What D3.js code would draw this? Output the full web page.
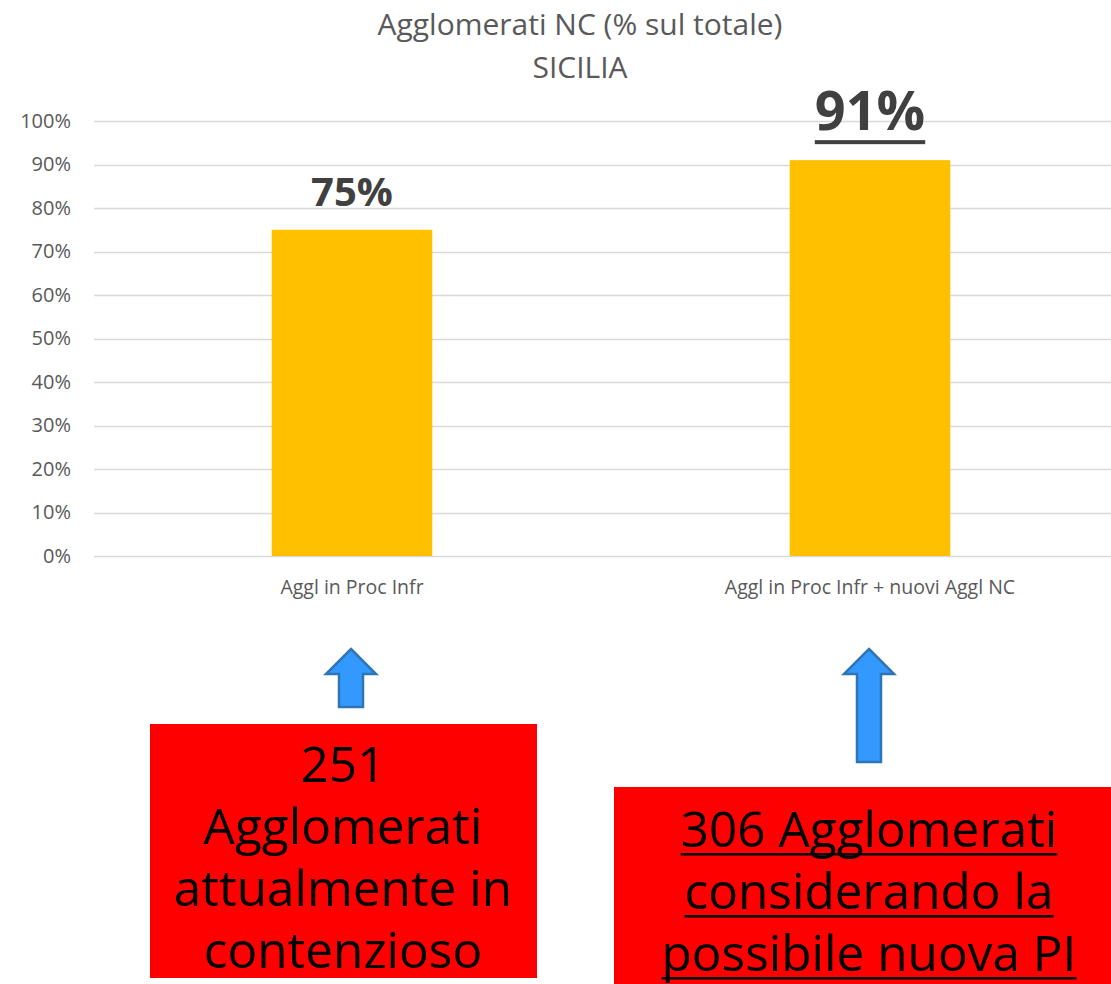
<!DOCTYPE html>
<html>
<head>
<meta charset="utf-8">
<script src="https://cdn.jsdelivr.net/npm/d3@7"></script>
<style>
  body { margin: 0; background: #fff; }
  svg { display: block; font-family: "Open Sans", "Noto Sans", sans-serif; }
</style>
</head>
<body>
<svg id="chart" width="1111" height="984"></svg>
<script>
// DATA
var categories = ["Aggl in Proc Infr", "Aggl in Proc Infr + nuovi Aggl NC"];
var values = [0.75, 0.91];
var valueLabels = ["75%", "91%"];
var tickValues = [0, 0.1, 0.2, 0.3, 0.4, 0.5, 0.6, 0.7, 0.8, 0.9, 1];
var titleLines = ["Agglomerati NC (% sul totale)", "SICILIA"];
var boxLines = [
  ["251", "Agglomerati", "attualmente in", "contenzioso"],
  ["306 Agglomerati", "considerando la", "possibile nuova PI"]
];

// LAYOUT
var W = 1111, H = 984;
var svg = d3.select("#chart");

var x = d3.scaleBand().domain(categories).range([93, 1129]).paddingInner(0.69).paddingOuter(0.345);
var y = d3.scaleLinear().domain([0, 1]).range([556, 121]);

// title
svg.selectAll(".title").data(titleLines).enter().append("text")
  .attr("class", "title")
  .attr("x", 580)
  .attr("y", function(d, i) { return 35 + i * 43; })
  .attr("text-anchor", "middle")
  .style("font-size", "30px")
  .style("fill", "#595959")
  .text(function(d) { return d; });

// grid + y axis
var yAxis = d3.axisLeft(y).tickValues(tickValues).tickFormat(d3.format(".0%")).tickSize(0).tickPadding(0);
var gy = svg.append("g").attr("transform", "translate(71,0)").call(yAxis);
gy.select(".domain").remove();
gy.selectAll("text").style("font-size", "20px").style("fill", "#595959").style("font-family", "\"Open Sans\", sans-serif");

svg.append("g").selectAll("line").data(tickValues).enter().append("line")
  .attr("x1", 94).attr("x2", W)
  .attr("y1", function(d) { return Math.round(y(d)) + 0.5; })
  .attr("y2", function(d) { return Math.round(y(d)) + 0.5; })
  .style("stroke", "#d9d9d9").style("stroke-width", 1.5);

// bars
svg.append("g").selectAll("rect").data(values).enter().append("rect")
  .attr("x", function(d, i) { return x(categories[i]); })
  .attr("width", x.bandwidth())
  .attr("y", function(d) { return y(d); })
  .attr("height", function(d) { return y(0) - y(d); })
  .style("fill", "#ffc000");

// category labels
var gx = svg.append("g").attr("transform", "translate(0,556)")
  .call(d3.axisBottom(x).tickSize(0).tickPadding(24));
gx.select(".domain").remove();
gx.selectAll("text").style("font-size", "19.5px").style("fill", "#595959").style("font-family", "\"Open Sans\", sans-serif");

// value labels
var labelSizes = [40, 54];
var labelOffsets = [24, 30];
valueLabels.forEach(function(t, i) {
  var cx = x(categories[i]) + x.bandwidth() / 2;
  var ty = y(values[i]) - labelOffsets[i];
  var txt = svg.append("text")
    .attr("x", cx).attr("y", ty)
    .attr("text-anchor", "middle")
    .style("font-size", labelSizes[i] + "px")
    .style("font-weight", "bold")
    .style("fill", "#404040")
    .text(t);
  if (i === 1) {
    var w = txt.node().getComputedTextLength();
    svg.append("rect").attr("x", cx - w / 2).attr("y", ty + 10).attr("width", w).attr("height", 4).style("fill", "#404040");
  }
});

// arrows
var arrowTop = 649, arrowBottoms = [707, 762];
var arrow = d3.line();
values.forEach(function(d, i) {
  var cx = x(categories[i]) + x.bandwidth() / 2 - 1;
  var pts = [
    [cx, arrowTop], [cx + 25, arrowTop + 25], [cx + 12, arrowTop + 25],
    [cx + 12, arrowBottoms[i]], [cx - 12, arrowBottoms[i]], [cx - 12, arrowTop + 25],
    [cx - 25, arrowTop + 25]
  ];
  svg.append("path").attr("d", arrow(pts) + "Z")
    .style("fill", "#3399ff").style("stroke", "#2e75b6").style("stroke-width", 2.5)
    .style("stroke-linejoin", "miter");
});

// red boxes
var boxes = [
  { x: 150, y: 724, w: 387, h: 254, cx: 343, base: 782, underline: false },
  { x: 614, y: 787, w: 497, h: 200, cx: 869, base: 847, underline: true }
];
boxes.forEach(function(b, i) {
  svg.append("rect").attr("x", b.x).attr("y", b.y).attr("width", b.w).attr("height", b.h).style("fill", "#ff0000");
  boxLines[i].forEach(function(line, j) {
    var ty = b.base + j * 62;
    var t = svg.append("text")
      .attr("x", b.cx).attr("y", ty)
      .attr("text-anchor", "middle")
      .style("font-size", "49.5px")
      .style("fill", "#000")
      .text(line);
    if (b.underline) {
      var w = t.node().getComputedTextLength();
      svg.append("rect").attr("x", b.cx - w / 2).attr("y", ty + 6).attr("width", w).attr("height", 2.5).style("fill", "#000");
    }
  });
});
</script>
</body>
</html>
